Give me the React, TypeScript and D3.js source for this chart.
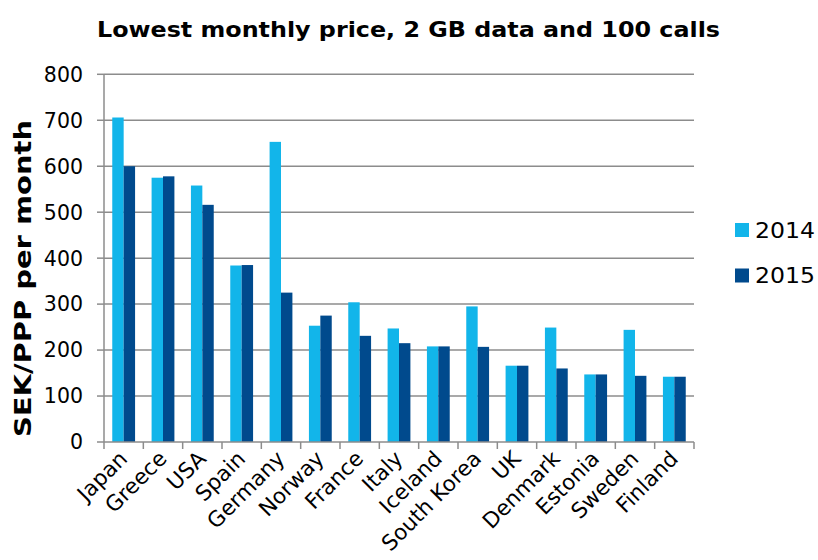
import React from "react";
import * as d3 from "d3";

const categories = ["Japan", "Greece", "USA", "Spain", "Germany", "Norway", "France", "Italy", "Iceland", "South Korea", "UK", "Denmark", "Estonia", "Sweden", "Finland"];
const values2014 = [706, 575, 558, 384, 653, 253, 304, 247, 208, 295, 166, 249, 147, 244, 142];
const values2015 = [600, 578, 516, 385, 325, 275, 231, 215, 208, 207, 166, 160, 147, 144, 142];
const seriesNames = ["2014", "2015"];
const yTicks = [0, 100, 200, 300, 400, 500, 600, 700, 800];
const colors = ["#12B5EA", "#004A8D"];

const W = 818, H = 560;
const left = 104, right = 694, top = 74.3, bottom = 442;
const font = "DejaVu Sans, Verdana, sans-serif";

export default function App() {
  const x = d3.scaleBand<string>().domain(categories).range([left, right]).paddingInner(0).paddingOuter(0);
  const y = d3.scaleLinear().domain([0, 800]).range([bottom, top]);
  const bw = x.bandwidth();
  const barW = bw * 0.29;
  const series = [values2014, values2015];
  const gridColor = "#8C8C8C";

  return (
    <svg width={W} height={H} style={{ position: "absolute", left: 0, top: 0 }} fontFamily={font}>
      <rect x={0} y={0} width={W} height={H} fill="#fff" />
      <text x={408.5} y={37} textAnchor="middle" fontWeight="bold" fontSize={21} fill="#000" textLength={623} lengthAdjust="spacingAndGlyphs">
        Lowest monthly price, 2 GB data and 100 calls
      </text>
      {yTicks.map((t) => (
        <g key={t}>
          {t > 0 && <line x1={left} x2={right} y1={y(t)} y2={y(t)} stroke={gridColor} strokeWidth={1.5} />}
          <line x1={left - 7} x2={left} y1={y(t)} y2={y(t)} stroke={gridColor} strokeWidth={1.5} />
          <text x={83} y={y(t)} dy="0.36em" textAnchor="end" fontSize={20.5} fill="#000">{t}</text>
        </g>
      ))}
      {categories.map((c, i) => {
        const cx = (x(c) as number) + bw / 2;
        return (
          <g key={c}>
            {series.map((vals, s) => (
              <rect
                key={s}
                x={cx - barW + s * barW}
                y={y(vals[i])}
                width={barW}
                height={bottom - y(vals[i])}
                fill={colors[s]}
              />
            ))}
          </g>
        );
      })}
      <line x1={left} x2={left} y1={top} y2={bottom} stroke={gridColor} strokeWidth={1.5} />
      <line x1={left} x2={right} y1={bottom} y2={bottom} stroke={gridColor} strokeWidth={1.5} />
      {categories.map((c, i) => (
        <line key={"t" + i} x1={x(c) as number} x2={x(c) as number} y1={bottom} y2={bottom + 7} stroke={gridColor} strokeWidth={1.5} />
      ))}
      <line x1={right} x2={right} y1={bottom} y2={bottom + 7} stroke={gridColor} strokeWidth={1.5} />
      {categories.map((c) => {
        const cx = (x(c) as number) + bw / 2 + 5;
        const cy = bottom + 18;
        return (
          <text key={"l" + c} x={cx} y={cy} textAnchor="end" fontSize={21.5} fill="#000" transform={`rotate(-45 ${cx} ${cy})`}>
            {c}
          </text>
        );
      })}
      <text transform={`translate(31 278.5) rotate(-90)`} textAnchor="middle" fontWeight="bold" fontSize={23} fill="#000" textLength={317} lengthAdjust="spacingAndGlyphs">
        SEK/PPP per month
      </text>
      {seriesNames.map((n, s) => (
        <g key={n}>
          <rect x={735} y={223 + s * 45.5} width={14} height={14} fill={colors[s]} />
          <text x={755} y={237.5 + s * 45.5} fontSize={22} fill="#000" textLength={60} lengthAdjust="spacingAndGlyphs">{n}</text>
        </g>
      ))}
    </svg>
  );
}
